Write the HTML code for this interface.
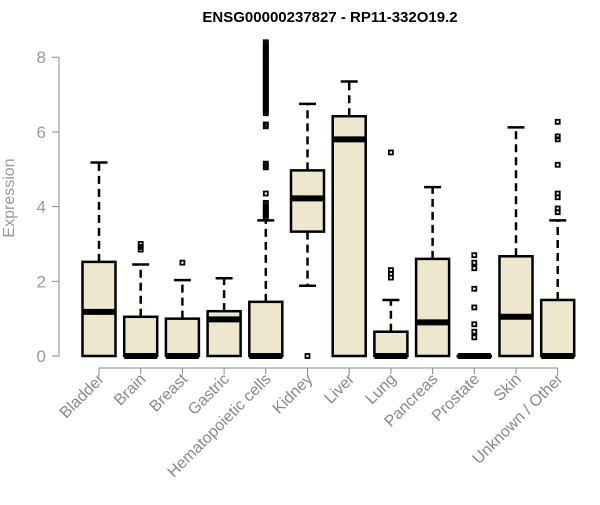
<!DOCTYPE html>
<html><head><meta charset="utf-8"><style>
body{margin:0;background:#fff}
svg{font-family:"Liberation Sans",Arial,sans-serif}
</style></head><body>
<svg id="chart" width="600" height="500" xmlns="http://www.w3.org/2000/svg">
<text x="330" y="22" text-anchor="middle" font-weight="bold" font-size="15">ENSG00000237827 - RP11-332O19.2</text>
<text transform="translate(14,198) rotate(-90)" text-anchor="middle" font-size="16" fill="#999">Expression</text>
<g id="plot"></g>
</svg>
<script>
const categories=["Bladder","Brain","Breast","Gastric","Hematopoietic cells","Kidney","Liver","Lung","Pancreas","Prostate","Skin","Unknown / Other"];
const whiskerLow=[0,0,0,1.2,0,1.88,0,0,0,0,0,0];
const q1=[0,0,0,0,0,3.33,0,0,0,0,0,0];
const medians=[1.18,0,0,0.98,0,4.22,5.8,0,0.9,0,1.05,0];
const q3=[2.52,1.05,1.0,1.2,1.45,4.97,6.42,0.65,2.6,0,2.67,1.5];
const whiskerHigh=[5.18,2.45,2.03,2.08,3.63,6.75,7.35,1.5,4.52,0,6.12,3.63];
const outliers=[[],[2.85,2.92,3.0],[2.5],[],
[3.7,3.75,3.8,3.85,3.9,3.95,4.0,4.05,4.1,4.35,5.05,5.1,5.15,6.15,6.2,6.5,6.55,6.6,6.65,6.7,6.75,6.8,6.85,6.9,6.95,7.0,7.05,7.1,7.15,7.2,7.25,7.3,7.35,7.4,7.45,7.5,7.55,7.6,7.65,7.7,7.75,7.8,7.85,7.9,7.95,8.0,8.05,8.1,8.15,8.2,8.25,8.3,8.35,8.4],
[0],[],[2.1,2.2,2.3,5.45],[],[0.5,0.65,0.85,1.3,1.8,2.35,2.5,2.7],[],[3.85,3.95,4.25,4.35,5.12,5.8,5.88,6.27]];
const yTicks=[0,2,4,6,8];
const NS="http://www.w3.org/2000/svg";
const g=document.getElementById('plot');
const y=v=>356-v*37.35;
const x=i=>99+i*41.7;
function mk(t,a){const e=document.createElementNS(NS,t);for(const k in a)e.setAttribute(k,a[k]);g.appendChild(e);return e;}
let e=mk('line',{x1:59,x2:59,y1:y(0),y2:y(8),stroke:'#888'});


yTicks.forEach(t=>{
 let l=mk('line',{x1:52,x2:59,y1:y(t),y2:y(t),stroke:'#888'});
 
 
 let tx=mk('text',{x:46,y:y(t)+6,'text-anchor':'end','font-size':17,fill:'#999'});
 tx.textContent=t;
 
 
});
e=mk('line',{x1:x(0),x2:x(11),y1:368,y2:368,stroke:'#888'});


categories.forEach((c,i)=>{
 const cx=x(i),hw=16.5;
 let t=mk('line',{x1:cx,x2:cx,y1:368,y2:374,stroke:'#888'});
 
 
 let lb=mk('text',{transform:`translate(${cx+6},${380}) rotate(-45)`,'text-anchor':'end','font-size':16,fill:'#888'});
 lb.textContent=c;
 
 
 if(whiskerHigh[i]>q3[i]){
  let w=mk('line',{x1:cx,x2:cx,y1:y(q3[i]),y2:y(whiskerHigh[i]),stroke:'#000','stroke-width':2.5,'stroke-dasharray':'8,5'});
  
  
  let c2=mk('line',{x1:cx-8.5,x2:cx+8.5,y1:y(whiskerHigh[i]),y2:y(whiskerHigh[i]),stroke:'#000','stroke-width':2.5});
  
  
 }
 if(whiskerLow[i]<q1[i]){
  let w=mk('line',{x1:cx,x2:cx,y1:y(q1[i]),y2:y(whiskerLow[i]),stroke:'#000','stroke-width':2.5,'stroke-dasharray':'8,5'});
  
  
  let c2=mk('line',{x1:cx-8.5,x2:cx+8.5,y1:y(whiskerLow[i]),y2:y(whiskerLow[i]),stroke:'#000','stroke-width':2.5});
  
  
 }
 let b=mk('rect',{x:cx-hw,y:y(q3[i]),width:2*hw,height:Math.max(y(q1[i])-y(q3[i]),0.5),fill:'#ede7cd',stroke:'#000','stroke-width':2.5});
 
 
 let m=mk('line',{x1:cx-hw,x2:cx+hw,y1:y(medians[i]),y2:y(medians[i]),stroke:'#000','stroke-width':6});
 
 
 outliers[i].forEach(v=>{
  let o=mk('rect',{x:cx-2,y:y(v)-2,width:4,height:4,fill:'none',stroke:'#000','stroke-width':1.8});
  
  
 });
});
</script>
</body></html>
